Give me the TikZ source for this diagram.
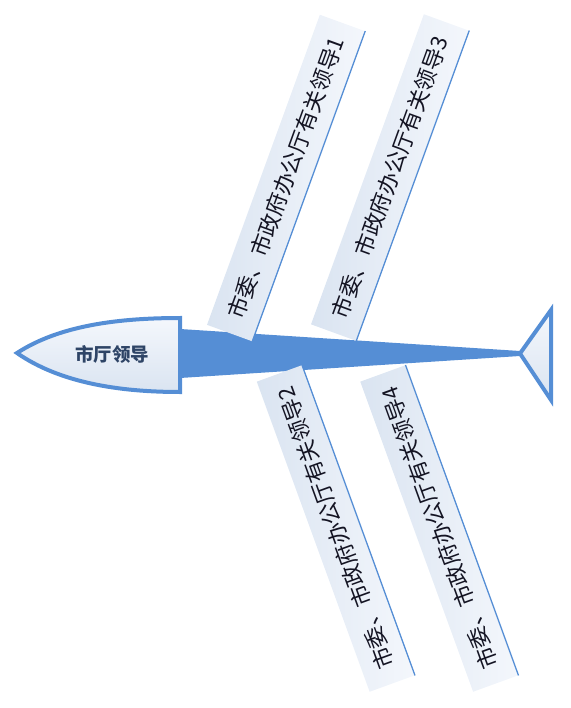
\documentclass[tikz,border=0pt]{standalone}
\usepackage{fontspec}
\newfontfamily\cjk{Noto Sans CJK SC}
\definecolor{mainblue}{RGB}{85,142,213}
\definecolor{lightfill}{RGB}{218,228,241}
\definecolor{paler}{RGB}{244,247,252}
\definecolor{headtext}{RGB}{46,68,102}
\definecolor{bonetext}{RGB}{20,20,35}
\begin{document}
\begin{tikzpicture}[x=1pt,y=-1pt,
  bone/.style={minimum width=330pt, minimum height=48pt, inner sep=0pt,
    left color=lightfill, right color=paler,
    font=\cjk\fontsize{22}{22}\selectfont, text=bonetext},
  boneline/.style={mainblue, line width=1.3pt},
  outline/.style={mainblue, line width=4pt, top color=paler, bottom color=lightfill}]
\useasboundingbox (0,0) rectangle (570,708);
% spine
\fill[mainblue] (180,329) -- (520,351) -- (520,356) -- (180,378) -- cycle;
% tail
\draw[outline, line join=miter] (520,353.5) -- (551,310) -- (551,400) -- cycle;
% head
\draw[outline] (17,353) .. controls (60,325) and (120,318) .. (180,318)
  -- (180,392) .. controls (120,392) and (60,383) .. (17,353) -- cycle;
\node[font=\cjk\bfseries\fontsize{18.5}{18.5}\selectfont, text=headtext] (head) at (112,354) {市厅领导};
% bones
\node[bone, rotate=70] (b1) at (286,178) {市委、市政府办公厅有关领导1};
\node[bone, rotate=70] (b3) at (390,177.5) {市委、市政府办公厅有关领导3};
\node[bone, rotate=110] (b2) at (335.75,528.5) {市委、市政府办公厅有关领导2};
\node[bone, rotate=110] (b4) at (439.25,528.5) {市委、市政府办公厅有关领导4};
\draw[boneline] (b1.south west) -- (b1.south east);
\draw[boneline] (b3.south west) -- (b3.south east);
\draw[boneline] (b2.south west) -- (b2.south east);
\draw[boneline] (b4.south west) -- (b4.south east);
\end{tikzpicture}
\end{document}
